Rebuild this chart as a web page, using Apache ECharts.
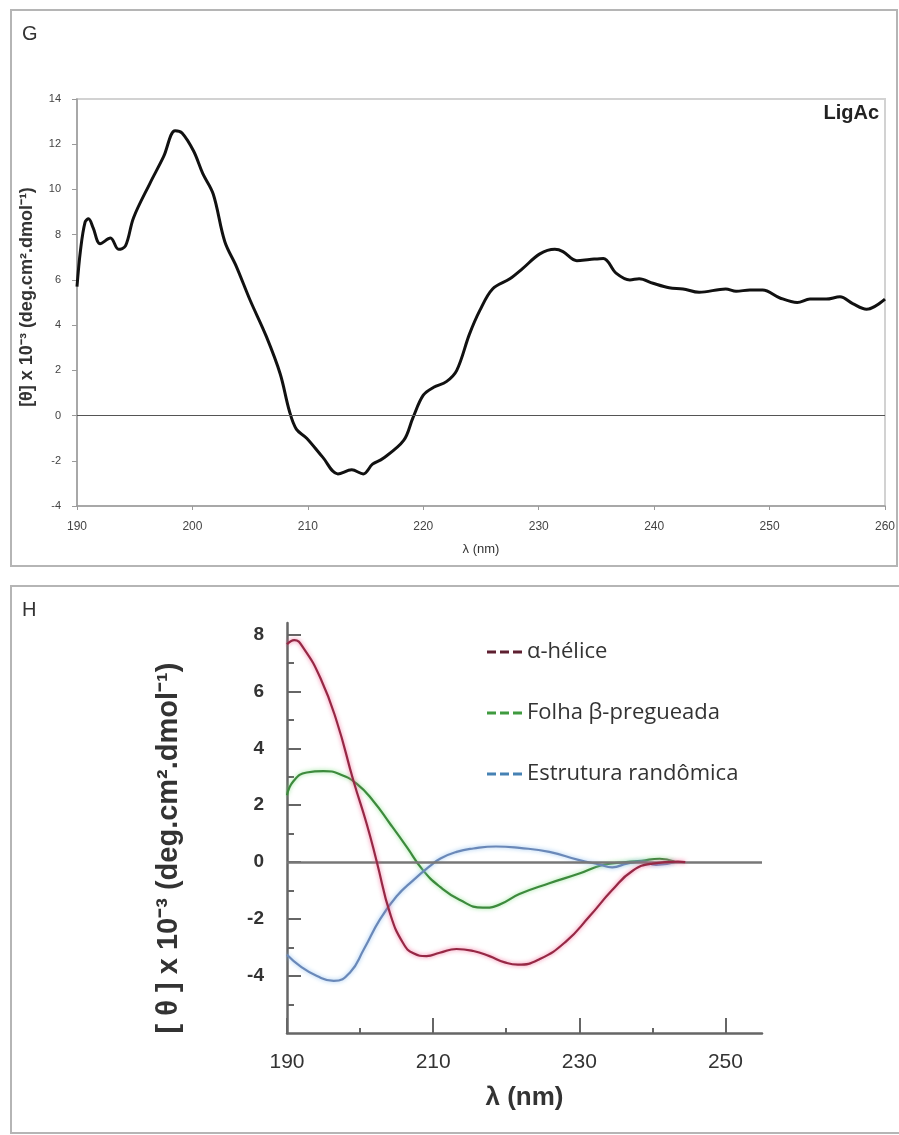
<!DOCTYPE html>
<html><head><meta charset="utf-8">
<script src="https://cdn.jsdelivr.net/npm/echarts@6/dist/echarts.min.js"></script>
<style>html,body{margin:0;padding:0;background:#fff}#c{width:899px;height:1135px}</style>
</head><body><div id="c"></div>
<script>
// ---- Panel G (LigAc) ----
const gWavelength = [190.0,190.3,190.7,191.0,191.4,192.0,192.9,193.6,194.2,194.9,196.3,197.5,198.5,199.1,200.1,200.9,201.8,202.8,203.8,205.0,206.4,207.6,208.4,209.0,209.9,211.3,212.6,213.8,214.8,215.6,216.5,218.3,219.1,220.0,220.9,222.0,222.9,224.0,224.9,226.0,227.5,228.6,230.1,231.4,232.1,233.3,234.4,235.6,236.7,237.9,238.7,239.9,241.3,242.5,243.9,246.2,247.1,248.3,249.4,250.9,252.4,253.5,254.9,256.1,257.2,258.4,260.0];
const gTheta = [5.7,7.3,8.55,8.7,8.3,7.6,7.85,7.35,7.5,8.75,10.25,11.45,12.6,12.5,11.7,10.7,9.8,7.7,6.6,5.1,3.5,1.85,0.2,-0.6,-1.0,-1.85,-2.58,-2.4,-2.58,-2.15,-1.9,-1.1,-0.1,0.9,1.25,1.5,2.0,3.6,4.65,5.6,6.05,6.5,7.15,7.35,7.25,6.85,6.9,6.95,6.3,6.0,6.05,5.85,5.65,5.6,5.45,5.6,5.5,5.55,5.55,5.2,5.0,5.15,5.15,5.25,4.95,4.7,5.15];

// ---- Panel H (reference spectra) ----
const hAlphaWavelength = [190,191,192.3,194.6,196.8,199.1,200.9,202.3,204.1,205.9,207.3,209.1,210.9,213.2,215.5,217.7,219.8,221.6,224.6,228.2,231.4,234.5,237.3,240,243.5,244.5];
const hAlphaTheta = [7.65,7.8,7.5,6.45,4.95,2.85,1.35,0,-1.8,-2.85,-3.2,-3.3,-3.18,-3.05,-3.12,-3.3,-3.52,-3.6,-3.4,-2.78,-1.9,-0.98,-0.3,-0.05,0.02,0];
const hBetaWavelength = [190,190.9,192.7,195,197.3,199.6,201.8,204.1,206.4,208.6,210.9,213.6,216.8,219,221.8,225.9,230,233.2,236.4,238.5,241,243];
const hBetaTheta = [2.35,2.85,3.15,3.2,3.08,2.74,2.15,1.35,0.53,-0.28,-0.86,-1.32,-1.6,-1.5,-1.12,-0.74,-0.4,-0.1,0,0.05,0.12,0.02];
const hRandomWavelength = [190,191.8,194.1,196.4,198.6,200.5,202.7,205,207.3,209.5,211,213.2,215.5,218.6,221.8,225.9,230,232.7,234.5,236.5,238.5,240.5,243];
const hRandomTheta = [-3.25,-3.65,-4.0,-4.17,-3.88,-3.07,-2.02,-1.2,-0.63,-0.15,0.13,0.36,0.48,0.55,0.5,0.36,0.07,-0.08,-0.18,-0.05,0.02,-0.1,0];

const hSeriesNames = ['α-hélice','Folha β-pregueada','Estrutura randômica'];
const hXMajorTicks = [190,210,230,250];
const hXMinorTicks = [200,220,240];
const hYLabelTicks = [-4,-2,0,2,4,6,8];
const hYMinorTicks = [-5,-3,-1,1,3,5,7];

const zip = (xs, ys) => xs.map((x, i) => [x, ys[i]]);
const ARIAL = 'Liberation Sans, Arial, sans-serif';

const chart = echarts.init(document.getElementById('c'), null, {renderer:'canvas'});

const zeroLine = (color, width) => ({
  silent: true, symbol: ['none','none'], label: {show:false},
  lineStyle: {color: color, width: width, type: 'solid'},
  emphasis: {disabled: true},
  data: [{yAxis: 0}]
});

const hLine = (name, xs, ys, color, glow, z) => ({
  name: name, type: 'line', xAxisIndex: 1, yAxisIndex: 1,
  data: zip(xs, ys), smooth: 0.5, showSymbol: false, symbol: 'none', z: z,
  lineStyle: {color: color, width: 2.2, shadowColor: glow, shadowBlur: 4},
  itemStyle: {color: color}
});

chart.setOption({
  animation: false,
  backgroundColor: '#fff',
  grid: [
    {left: 77, top: 99, width: 808, height: 407, show: true, borderColor: '#d2d2d2', borderWidth: 2, outerBoundsMode: 'none'},
    {left: 287, top: 623, width: 475, height: 410, show: false, outerBoundsMode: 'none'}
  ],
  xAxis: [
    {gridIndex: 0, type: 'value', min: 190, max: 260, interval: 10, position: 'bottom',
     axisLine: {onZero: false, lineStyle: {color: '#9a9a9a', width: 1.5}},
     axisTick: {show: true, length: 4, lineStyle: {color: '#9a9a9a'}},
     axisLabel: {fontSize: 12, color: '#444', margin: 15, fontFamily: ARIAL},
     splitLine: {show: false},
     name: 'λ (nm)', nameLocation: 'middle', nameGap: 37,
     nameTextStyle: {fontSize: 13, color: '#333', fontFamily: ARIAL}},
    {gridIndex: 1, type: 'value', min: 190, max: 255, position: 'bottom',
     axisLine: {onZero: false, lineStyle: {color: '#666', width: 2.5}},
     axisTick: {show: true, inside: true, length: 15, customValues: hXMajorTicks, lineStyle: {color: '#666', width: 2}},
     axisLabel: {fontSize: 21, color: '#333', margin: 19, fontFamily: ARIAL, customValues: hXMajorTicks},
     splitLine: {show: false},
     name: 'λ (nm)', nameLocation: 'middle', nameGap: 52,
     nameTextStyle: {fontSize: 26, fontWeight: 'bold', color: '#333', fontFamily: ARIAL}},
    {gridIndex: 1, type: 'value', min: 190, max: 255, position: 'bottom',
     axisLine: {show: false, onZero: false},
     axisTick: {show: true, inside: true, length: 5, customValues: hXMinorTicks, lineStyle: {color: '#666', width: 2}},
     axisLabel: {show: false}, splitLine: {show: false}}
  ],
  yAxis: [
    {gridIndex: 0, type: 'value', min: -4, max: 14, interval: 2, position: 'left',
     axisLine: {show: true, onZero: false, lineStyle: {color: '#9a9a9a', width: 1.5}},
     axisTick: {show: true, length: 5, lineStyle: {color: '#9a9a9a'}},
     axisLabel: {fontSize: 11, color: '#444', margin: 16, fontFamily: ARIAL},
     splitLine: {show: false}},
    {gridIndex: 1, type: 'value', min: -6, max: 8.4, position: 'left',
     axisLine: {show: true, onZero: false, lineStyle: {color: '#666', width: 2.5}},
     axisTick: {show: true, inside: true, length: 14, customValues: hYLabelTicks, lineStyle: {color: '#666', width: 2}},
     axisLabel: {fontSize: 19, fontWeight: 'bold', color: '#333', margin: 23, fontFamily: ARIAL, customValues: hYLabelTicks},
     splitLine: {show: false}},
    {gridIndex: 1, type: 'value', min: -6, max: 8.4, position: 'left', offset: 0,
     axisLine: {show: false, onZero: false},
     axisTick: {show: true, inside: true, length: 7, customValues: hYMinorTicks, lineStyle: {color: '#666', width: 2}},
     axisLabel: {show: false}, splitLine: {show: false}}
  ],
  legend: {
    orient: 'vertical', left: 482, top: 635, itemWidth: 35, itemHeight: 3, itemGap: 37,
    icon: 'path://M0,0H9V3H0Z M13,0H22V3H13Z M26,0H35V3H26Z',
    textStyle: {fontSize: 22, color: '#333', fontFamily: 'Open Sans, Noto Sans, sans-serif', lineHeight: 24},
    selectedMode: false,
    data: [
      {name: hSeriesNames[0], itemStyle: {color: '#5e1f30'}},
      {name: hSeriesNames[1], itemStyle: {color: '#3f9a3f'}},
      {name: hSeriesNames[2], itemStyle: {color: '#4682b4'}}
    ]
  },
  series: [
    {name: 'LigAc', type: 'line', xAxisIndex: 0, yAxisIndex: 0,
     data: zip(gWavelength, gTheta), smooth: 0.35, showSymbol: false, symbol: 'none',
     lineStyle: {color: '#111', width: 3}, itemStyle: {color: '#111'},
     markLine: zeroLine('#555', 1), z: 3},
    Object.assign(hLine(hSeriesNames[1], hBetaWavelength, hBetaTheta, '#3d8a3d', 'rgba(120,220,120,0.8)', 3),
      {markLine: zeroLine('#777', 2.5)}),
    hLine(hSeriesNames[2], hRandomWavelength, hRandomTheta, '#6a88b8', 'rgba(140,190,240,0.9)', 4),
    hLine(hSeriesNames[0], hAlphaWavelength, hAlphaTheta, '#962845', 'rgba(240,90,140,0.85)', 5)
  ],
  graphic: [
    {type: 'rect', z: -1, shape: {x: 11, y: 10, width: 886, height: 556}, style: {fill: 'none', stroke: '#b5b5b5', lineWidth: 2}},
    {type: 'rect', z: -1, shape: {x: 11, y: 586, width: 900, height: 547}, style: {fill: 'none', stroke: '#b5b5b5', lineWidth: 2}},
    {type: 'text', x: 22, y: 34, style: {text: 'G', fontSize: 20, fill: '#333', fontFamily: ARIAL, verticalAlign: 'middle'}},
    {type: 'text', x: 22, y: 610, style: {text: 'H', fontSize: 20, fill: '#333', fontFamily: ARIAL, verticalAlign: 'middle'}},
    {type: 'text', x: 879, y: 113, style: {text: 'LigAc', fontSize: 20, fontWeight: 'bold', fill: '#222', fontFamily: ARIAL, align: 'right', verticalAlign: 'middle'}},
    {type: 'text', x: 27, y: 297, rotation: Math.PI / 2, style: {text: '[θ] x 10⁻³ (deg.cm².dmol⁻¹)', fontSize: 18, fontWeight: 'bold', fill: '#333', fontFamily: ARIAL, align: 'center', verticalAlign: 'middle'}},
    {type: 'text', x: 169, y: 848, rotation: Math.PI / 2, style: {text: '[ θ ] x 10⁻³ (deg.cm².dmol⁻¹)', fontSize: 29, fontWeight: 'bold', fill: '#333', fontFamily: ARIAL, align: 'center', verticalAlign: 'middle'}}
  ]
});
</script>
</body></html>
